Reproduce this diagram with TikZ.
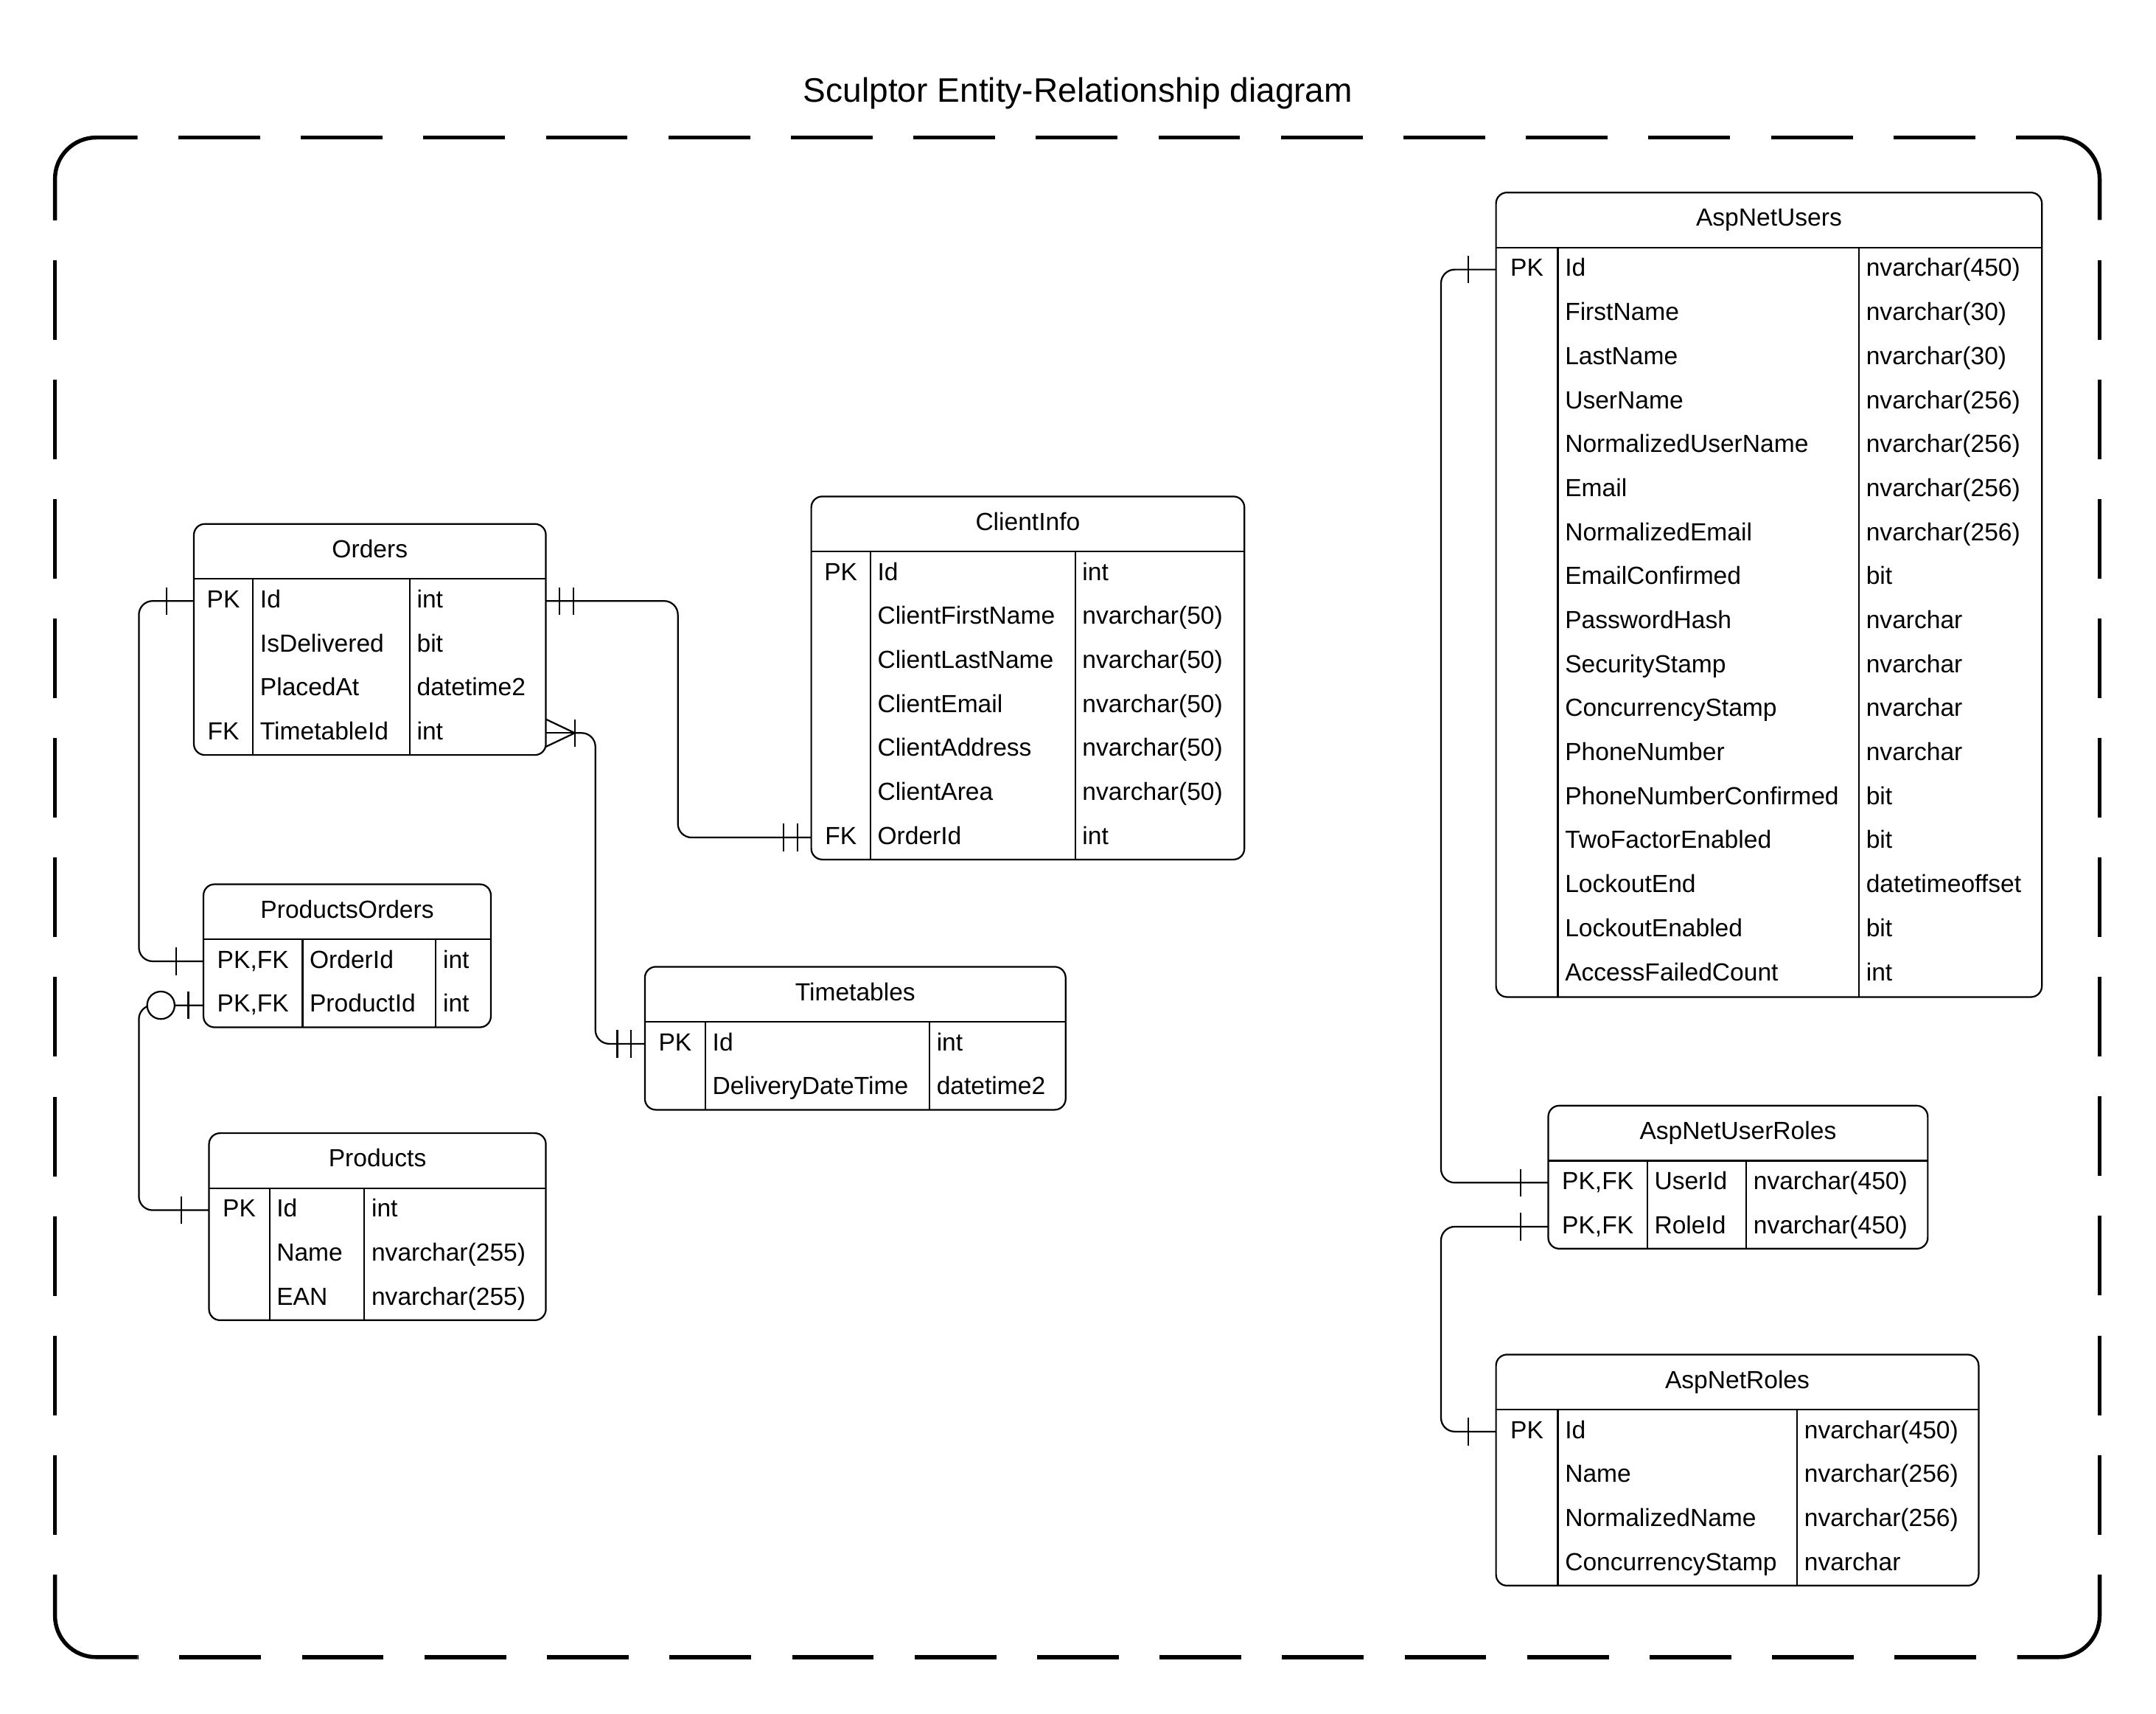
\documentclass[tikz,border=0pt]{standalone}
\usepackage{fontspec}
\setmainfont{Liberation Sans}
\usepackage{tikz}
\usetikzlibrary{calc}

\tikzset{
  tbl/.style={line width=1.2pt, rounded corners=8pt},
  tline/.style={line width=1.2pt},
  rel/.style={line width=1.2pt, rounded corners=10pt},
  cell/.style={inner sep=0pt, anchor=base west, font=\fontsize{18pt}{22pt}\selectfont},
  keycell/.style={cell, anchor=base},
  tbltitle/.style={cell, anchor=base},
  borderline/.style={line width=2.9pt},
  hdash/.style={borderline, dash pattern=on 59.4pt off 29.7pt, dash phase=59.4pt},
  vdash/.style={borderline, dash pattern=on 57.9pt off 29pt, dash phase=57.9pt}
}

% #1 name, #2 left, #3 top, #4 right, #5 bottom, #6 #7 column lines, #8 title, #9 rows
\newcommand{\ertable}[9]{%
  \draw[tbl] (#2,#3) rectangle (#4,#5);
  \draw[tline] (#2,#3+40) -- (#4,#3+40);
  \draw[tline] (#6,#3+40) -- (#6,#5);
  \draw[tline] (#7,#3+40) -- (#7,#5);
  \node[tbltitle] (#1) at ({(#2+#4)/2},#3+24.5) {#8};
  \foreach \kk/\fld/\typ [count=\i] in {#9} {
    \coordinate (#1-l\i) at (#2,#3+24+32*\i);
    \coordinate (#1-r\i) at (#4,#3+24+32*\i);
    \node[keycell] (#1-k\i) at ({(#2+#6)/2},#3+29+32*\i) {\kk};
    \node[cell] (#1-f\i) at (#6+5,#3+29+32*\i) {\fld};
    \node[cell] (#1-t\i) at (#7+5,#3+29+32*\i) {\typ};
  }
}

\begin{document}
\begin{tikzpicture}[x=1pt,y=-1pt]
\useasboundingbox (0,0) rectangle (1568,1246);

\node[tbltitle, font=\fontsize{24.7pt}{30pt}\selectfont] (title) at (784,74) {Sculptor Entity-Relationship diagram};

% dashed frame, solid corners
\draw[borderline, rounded corners=30pt] (40,160) |- (100,100);
\draw[borderline, rounded corners=30pt] (1467,100) -| (1527,160);
\draw[borderline, rounded corners=30pt] (1527,1145) |- (1467,1205);
\draw[borderline, rounded corners=30pt] (100,1205) -| (40,1145);
\draw[hdash] (100,100) -- (1467,100);
\draw[hdash] (1467,1205) -- (100,1205);
\draw[vdash] (1527,160) -- (1527,1145);
\draw[vdash] (40,1145) -- (40,160);

% tables
\ertable{ord}{141}{381}{397}{549}{184}{298}{Orders}
  {PK/Id/int, /IsDelivered/bit, /PlacedAt/datetime2, FK/TimetableId/int}
\ertable{ci}{590}{361}{905}{625}{633}{782}{ClientInfo}
  {PK/Id/int, /ClientFirstName/nvarchar(50), /ClientLastName/nvarchar(50),
   /ClientEmail/nvarchar(50), /ClientAddress/nvarchar(50), /ClientArea/nvarchar(50),
   FK/OrderId/int}
\ertable{po}{148}{643}{357}{747}{220}{317}{ProductsOrders}
  {{PK,FK}/OrderId/int, {PK,FK}/ProductId/int}
\ertable{tt}{469}{703}{775}{807}{513}{676}{Timetables}
  {PK/Id/int, /DeliveryDateTime/datetime2}
\ertable{prod}{152}{824}{397}{960}{196}{265}{Products}
  {PK/Id/int, /Name/nvarchar(255), /EAN/nvarchar(255)}
\ertable{anu}{1088}{140}{1485}{725}{1133}{1352}{AspNetUsers}
  {PK/Id/nvarchar(450), /FirstName/nvarchar(30), /LastName/nvarchar(30),
   /UserName/nvarchar(256), /NormalizedUserName/nvarchar(256), /Email/nvarchar(256),
   /NormalizedEmail/nvarchar(256), /EmailConfirmed/bit, /PasswordHash/nvarchar,
   /SecurityStamp/nvarchar, /ConcurrencyStamp/nvarchar, /PhoneNumber/nvarchar,
   /PhoneNumberConfirmed/bit, /TwoFactorEnabled/bit, /LockoutEnd/datetimeoffset,
   /LockoutEnabled/bit, /AccessFailedCount/int}
\ertable{anur}{1126}{804}{1402}{908}{1198}{1270}{AspNetUserRoles}
  {{PK,FK}/UserId/nvarchar(450), {PK,FK}/RoleId/nvarchar(450)}
\ertable{anr}{1088}{985}{1439}{1153}{1133}{1307}{AspNetRoles}
  {PK/Id/nvarchar(450), /Name/nvarchar(256), /NormalizedName/nvarchar(256),
   /ConcurrencyStamp/nvarchar}

% relations
\draw[rel] (ord-l1) -- ++(-40,0) |- (po-l1);
\draw[rel] (ord-r1) -- ++(96,0) |- (ci-l7);
\draw[rel] ([xshift=21pt]ord-r4) -- ++(15,0) |- (tt-l1);
\draw[rel] (po-l2) -- ++(-47,0) |- (prod-l1);
\draw[rel] (anu-l1) -- ++(-40,0) |- (anur-l1);
\draw[rel] (anur-l2) -- ++(-78,0) |- (anr-l1);

% end marks
\foreach \anc/\dx in {ord-l1/-20, po-l1/-20, prod-l1/-20, anu-l1/-20, anur-l1/-20,
    anur-l2/-20, anr-l1/-20, ord-r1/10, ord-r1/20, ci-l7/-10, ci-l7/-20,
    tt-l1/-10, tt-l1/-20, po-l2/-11, ord-r4/21}
  \draw[tline] ([xshift=\dx pt]\anc) ++(0,-10) -- ++(0,20);
\draw[tline] ([yshift=10pt]ord-r4) -- ([xshift=21pt]ord-r4) -- ([yshift=-10pt]ord-r4);
\draw[tline] (ord-r4) -- ([xshift=21pt]ord-r4);
\draw[tline, fill=white] ([xshift=-31pt]po-l2) circle[radius=10];
\end{tikzpicture}
\end{document}
